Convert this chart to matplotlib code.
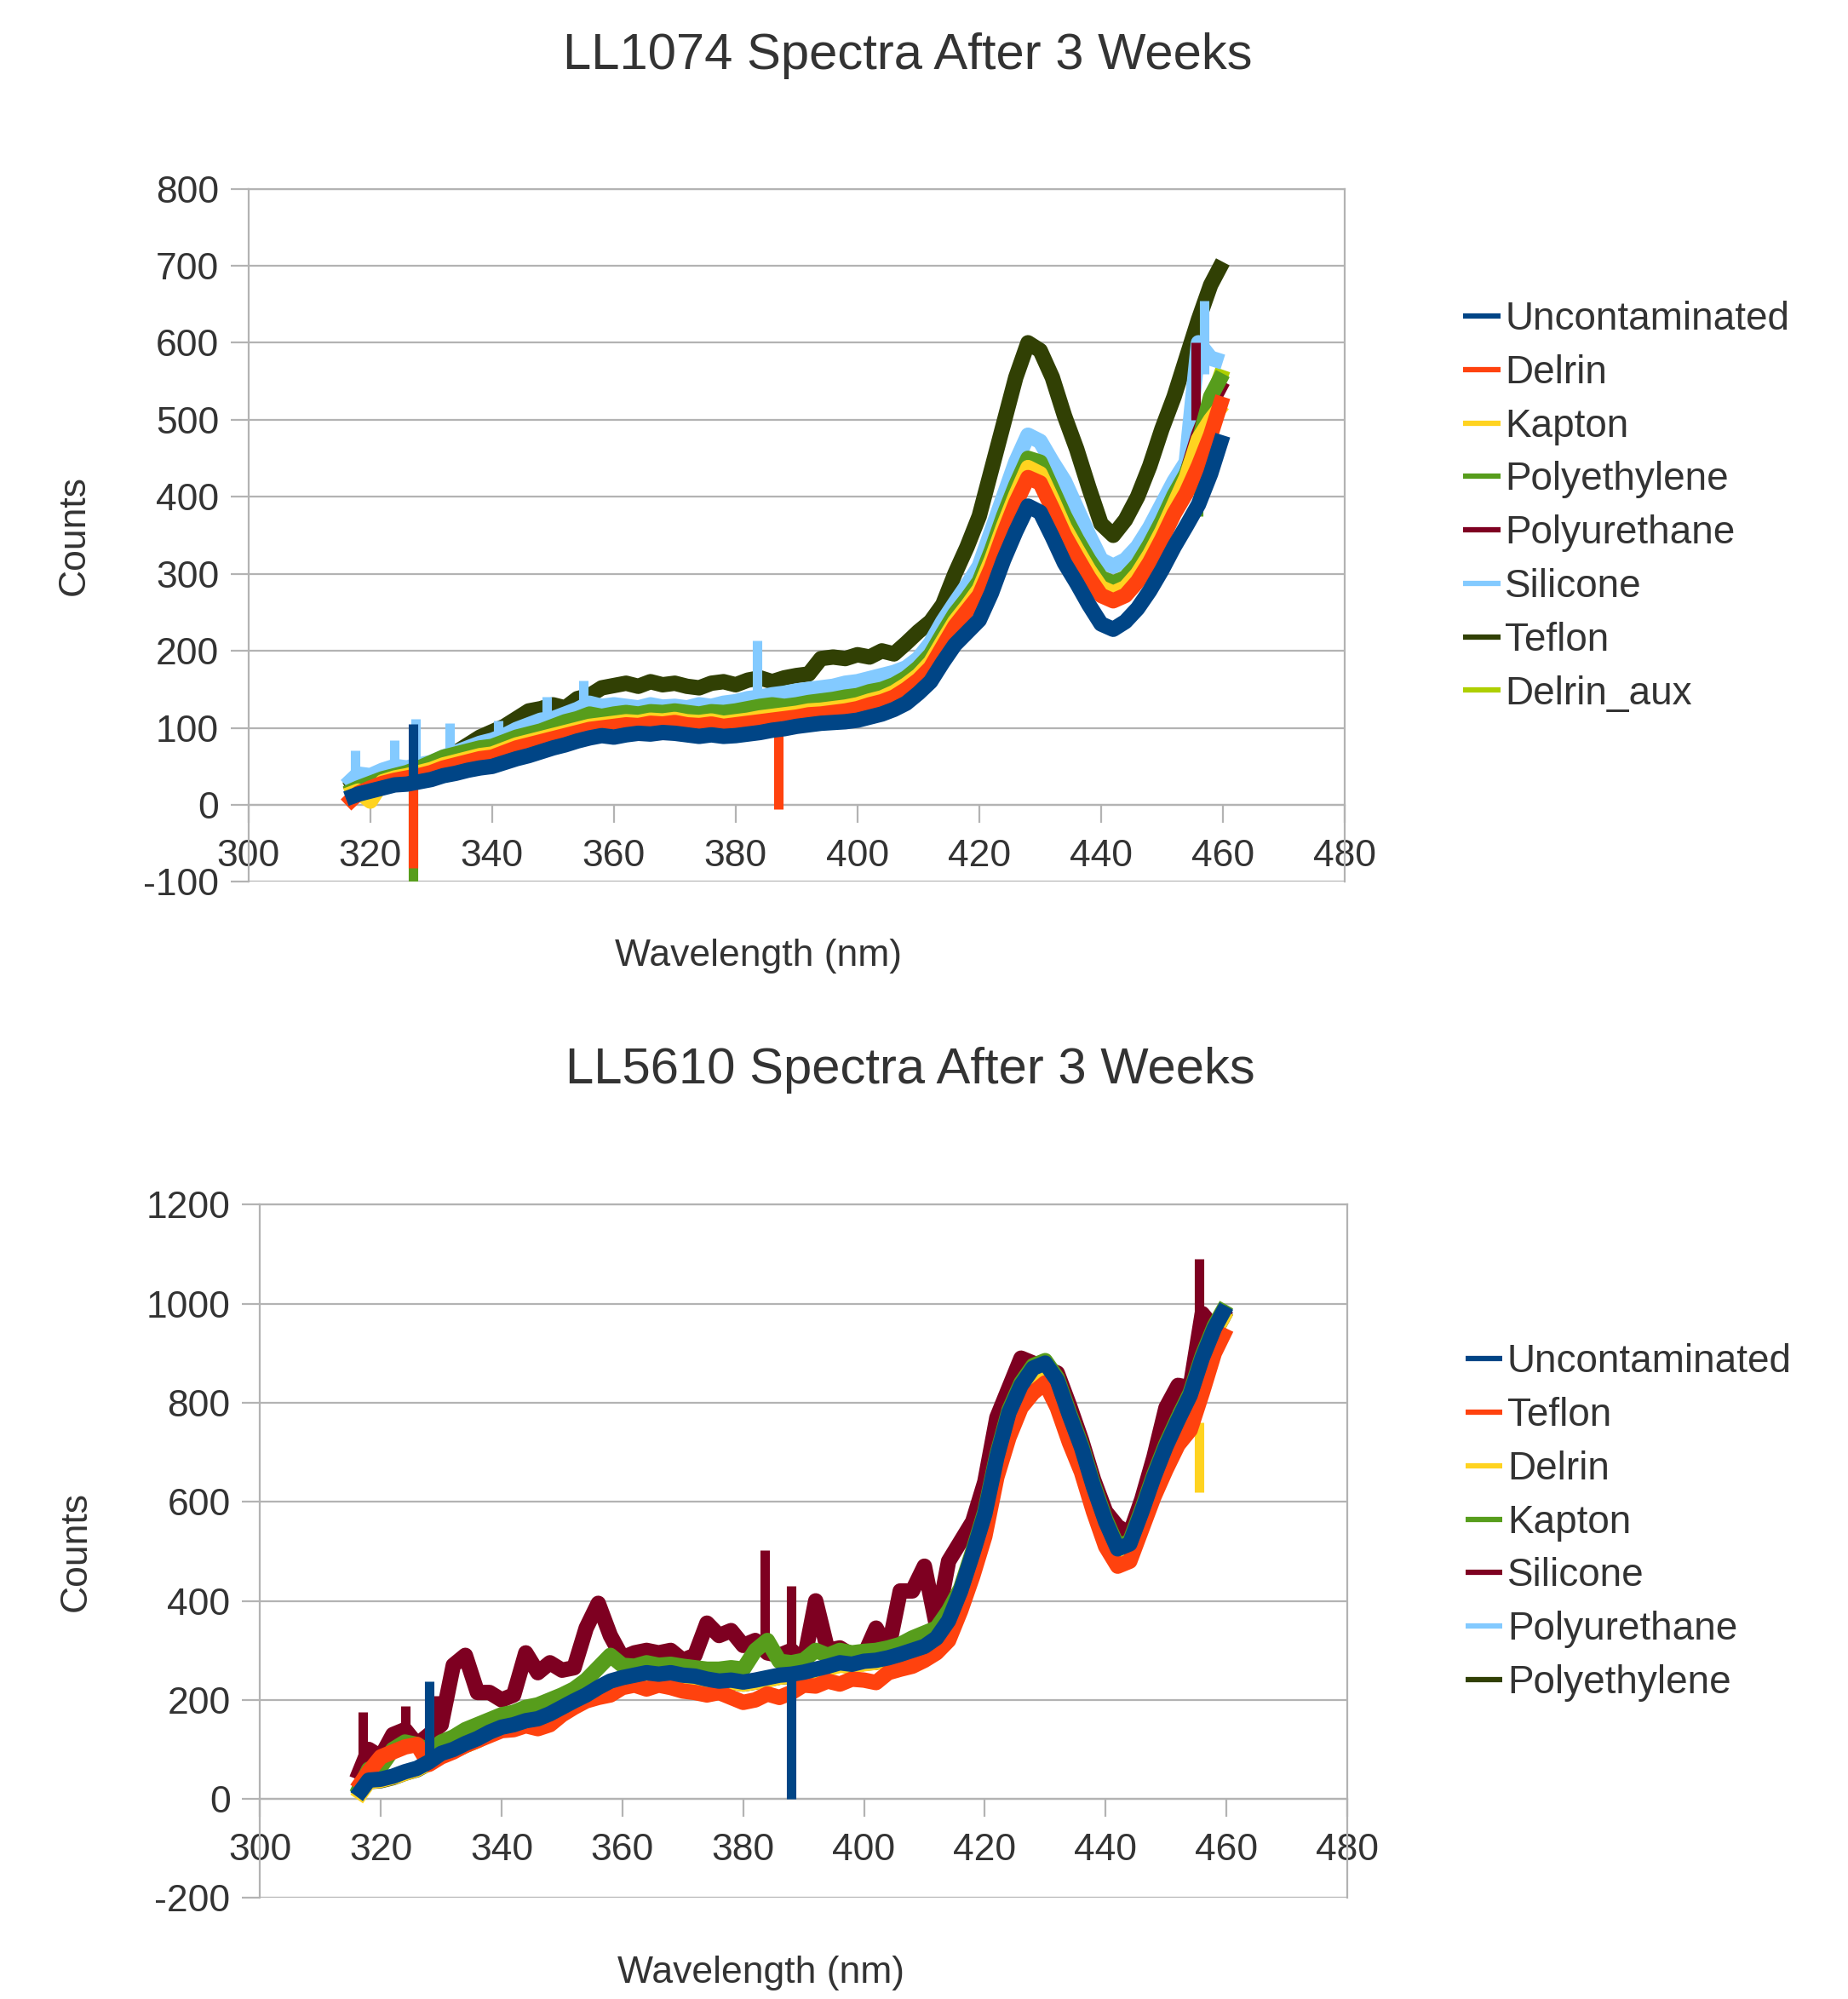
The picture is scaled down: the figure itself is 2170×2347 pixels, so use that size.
import matplotlib.pyplot as plt

plt.rcParams['font.family'] = ['Liberation Sans', 'DejaVu Sans']
plt.rcParams['axes.unicode_minus'] = False

# sampling grid (nm), 316..460 every 2 nm
wavelength = list(range(316, 461, 2))

# ---------------- LL1074 ----------------
top_names = ['Uncontaminated', 'Delrin', 'Kapton', 'Polyethylene', 'Polyurethane',
             'Silicone', 'Teflon', 'Delrin_aux']
top_colors = ['#004586', '#ff420e', '#ffd320', '#579d1c', '#7e0021',
              '#83caff', '#314004', '#aecf00']

top_uncont = [8, 14, 18, 22, 26, 27, 30, 33, 38, 41,
              45, 48, 50, 55, 60, 64, 69, 74, 78, 83,
              87, 90, 88, 91, 93, 92, 94, 93, 91, 89,
              91, 89, 90, 92, 94, 97, 99, 102, 104, 106,
              107, 108, 110, 114, 118, 124, 132, 145, 160, 185,
              208, 224, 240, 275, 318, 355, 388, 380, 348, 314,
              288, 260, 235, 228, 238, 255, 278, 305, 335, 362,
              390, 430, 480]
top_delrin = [0, 15, 22, 28, 32, 35, 38, 42, 48, 52,
              56, 60, 62, 68, 74, 78, 82, 86, 90, 94,
              98, 100, 102, 104, 103, 106, 105, 107, 104, 103,
              105, 102, 104, 106, 108, 110, 112, 114, 117, 118,
              120, 122, 125, 130, 134, 140, 150, 162, 178, 205,
              232, 252, 272, 308, 352, 392, 425, 418, 385, 350,
              322, 295, 272, 265, 272, 290, 315, 345, 378, 405,
              440, 480, 530]
top_kapton = [12, 18, 5, 30, 35, 38, 42, 46, 52, 56,
              60, 64, 66, 72, 78, 82, 86, 90, 94, 98,
              102, 104, 106, 108, 107, 110, 109, 111, 108, 107,
              109, 106, 108, 110, 113, 115, 117, 119, 122, 123,
              125, 127, 130, 135, 139, 146, 156, 168, 185, 212,
              238, 258, 280, 318, 362, 402, 438, 430, 396, 360,
              332, 305, 282, 275, 282, 300, 325, 355, 390, 425,
              475, 500, 520]
top_polyeth = [15, 22, 28, 34, 38, 42, 48, 55, 62, 66,
               70, 74, 76, 82, 88, 92, 96, 102, 108, 112,
               118, 115, 118, 120, 118, 121, 120, 122, 120, 118,
               121, 120, 122, 125, 128, 130, 128, 130, 133, 135,
               137, 140, 142, 147, 150, 156, 165, 178, 195, 222,
               248, 268, 290, 330, 375, 415, 450, 445, 410, 375,
               345, 318, 295, 288, 295, 312, 338, 368, 402, 430,
               470, 530, 560]
top_polyur = [14, 20, 27, 33, 37, 41, 46, 53, 60, 64,
              68, 72, 75, 80, 86, 90, 95, 100, 106, 110,
              115, 113, 116, 118, 116, 119, 118, 120, 118, 116,
              119, 118, 120, 123, 126, 128, 126, 128, 131, 133,
              135, 138, 140, 145, 148, 154, 162, 175, 192, 218,
              245, 265, 288, 326, 372, 412, 448, 442, 408, 372,
              342, 315, 292, 286, 292, 310, 335, 365, 398, 428,
              480, 520, 550]
top_silicone = [25, 40, 38, 45, 50, 48, 52, 55, 62, 68,
                74, 80, 84, 90, 98, 104, 110, 112, 118, 124,
                132, 128, 130, 128, 126, 130, 127, 128, 126, 130,
                128, 132, 134, 138, 140, 143, 145, 148, 150, 152,
                154, 158, 160, 164, 168, 172, 178, 190, 210, 238,
                262, 285, 310, 355, 400, 445, 480, 472, 445, 420,
                385, 350, 318, 310, 318, 335, 360, 390, 420, 445,
                600, 580, 575]
top_teflon = [20, 28, 30, 33, 36, 40, 45, 52, 60, 68,
              78, 88, 95, 102, 112, 122, 125, 130, 126, 138,
              142, 152, 155, 158, 154, 160, 156, 158, 154, 152,
              158, 160, 156, 162, 165, 160, 165, 168, 170, 190,
              192, 190, 195, 192, 200, 196, 210, 225, 238, 260,
              300, 335, 375, 435, 495, 555, 600, 590, 555, 505,
              462, 412, 365, 350, 370, 400, 440, 488, 530, 580,
              630, 675, 705]
top_delrin_aux = [14, 21, 27, 33, 37, 41, 47, 53, 60, 64,
                  68, 72, 74, 80, 86, 90, 94, 100, 105, 110,
                  114, 112, 115, 117, 115, 118, 117, 119, 117, 115,
                  118, 117, 119, 122, 125, 127, 125, 127, 130, 132,
                  134, 137, 139, 144, 147, 153, 161, 174, 190, 216,
                  243, 262, 285, 325, 370, 410, 445, 440, 405, 370,
                  340, 313, 290, 283, 290, 307, 332, 362, 395, 422,
                  460, 520, 565]

# narrow spikes: (wavelength, low, high)
top_spikes = {
    'Uncontaminated': [(327, 25, 105)],
    'Delrin': [(327, -82, 30), (387, -5, 110)],
    'Polyethylene': [(327, -100, 40), (456, 375, 470)],
    'Polyurethane': [(455.5, 500, 600)],
    'Silicone': [(317.5, 30, 71), (324, 40, 84), (327.5, 45, 112), (333, 60, 106),
                 (341, 85, 110), (349, 105, 140), (355, 120, 162), (383.5, 135, 214),
                 (457, 560, 655)],
}

# ---------------- LL5610 ----------------
bot_names = ['Uncontaminated', 'Teflon', 'Delrin', 'Kapton', 'Silicone',
             'Polyurethane', 'Polyethylene']
bot_colors = ['#004586', '#ff420e', '#ffd320', '#579d1c', '#7e0021',
              '#83caff', '#314004']

bot_uncont = [5, 38, 40, 46, 55, 62, 75, 92, 100, 112,
              122, 135, 145, 150, 158, 162, 172, 185, 198, 210,
              225, 238, 245, 250, 255, 252, 255, 250, 248, 242,
              238, 240, 236, 240, 245, 250, 252, 256, 262, 268,
              275, 272, 278, 280, 285, 292, 300, 308, 325, 360,
              420, 495, 575, 690, 780, 835, 870, 880, 845, 775,
              710, 630, 560, 505, 515, 580, 650, 712, 765, 815,
              890, 950, 995]
bot_teflon = [20, 55, 85, 95, 105, 110, 70, 85, 95, 108,
              118, 128, 138, 140, 148, 142, 150, 170, 185, 198,
              205, 210, 225, 230, 222, 230, 225, 218, 215, 210,
              215, 205, 195, 200, 212, 205, 215, 230, 228, 238,
              232, 242, 240, 235, 255, 262, 268, 280, 295, 320,
              380, 450, 530, 650, 730, 790, 820, 840, 790, 720,
              660, 580, 510, 470, 480, 545, 610, 665, 715, 745,
              820, 900, 950]
bot_delrin = [0, 35, 38, 44, 52, 60, 72, 88, 97, 108,
              118, 130, 140, 146, 153, 158, 168, 180, 193, 205,
              220, 232, 240, 245, 250, 247, 250, 246, 243, 238,
              234, 236, 232, 236, 240, 246, 248, 252, 258, 263,
              270, 268, 273, 276, 280, 288, 295, 303, 320, 352,
              410, 485, 565, 680, 770, 825, 860, 870, 835, 765,
              700, 620, 552, 498, 508, 572, 640, 700, 752, 800,
              870, 940, 985]
bot_kapton = [10, 60, 65, 100, 115, 110, 95, 115, 125, 140,
              150, 160, 170, 175, 185, 190, 200, 210, 222, 240,
              265, 290, 270, 268, 275, 270, 272, 268, 265, 262,
              262, 265, 262, 300, 320, 278, 275, 280, 300, 290,
              300, 295, 298, 300, 305, 312, 325, 335, 345, 380,
              425, 500, 580, 695, 785, 840, 875, 885, 850, 780,
              715, 635, 565, 510, 520, 585, 655, 717, 770, 820,
              895, 955, 998]
bot_silicone = [40, 100, 85, 130, 140, 110, 130, 150, 270, 290,
                215, 215, 200, 210, 295, 255, 275, 260, 265, 345,
                395, 330, 285, 295, 300, 295, 300, 280, 290, 355,
                330, 340, 310, 320, 295, 290, 300, 275, 400, 300,
                305, 290, 290, 345, 300, 420, 420, 470, 350, 480,
                520, 560, 640, 770, 830, 890, 880, 870, 860, 795,
                725, 645, 580, 550, 535, 605, 690, 790, 835, 830,
                980, 950, 990]
bot_polyur = [5, 36, 39, 45, 54, 61, 74, 90, 99, 110,
              120, 133, 143, 149, 156, 161, 170, 183, 196, 208,
              223, 236, 243, 248, 253, 250, 253, 248, 246, 240,
              236, 238, 234, 238, 243, 248, 250, 254, 260, 266,
              273, 270, 276, 278, 283, 290, 298, 306, 322, 356,
              415, 490, 570, 685, 776, 830, 866, 876, 840, 770,
              705, 625, 556, 502, 512, 576, 646, 708, 760, 810,
              885, 945, 990]
bot_polyeth = [4, 35, 37, 43, 52, 59, 72, 88, 97, 108,
               118, 131, 141, 147, 154, 159, 168, 181, 194, 206,
               221, 234, 241, 246, 251, 248, 251, 246, 244, 238,
               234, 236, 232, 236, 241, 246, 248, 252, 258, 264,
               271, 268, 274, 276, 281, 288, 296, 304, 320, 352,
               412, 486, 566, 680, 772, 826, 862, 872, 836, 766,
               700, 620, 552, 498, 508, 572, 642, 704, 756, 806,
               880, 940, 985]

bot_spikes = {
    'Uncontaminated': [(328, 70, 237), (388, 0, 255)],
    'Delrin': [(455.5, 620, 760)],
    'Silicone': [(317, 60, 175), (324, 130, 188), (329, 120, 208), (383.5, 300, 503),
                 (388, 280, 430), (455.5, 850, 1090)],
}

top_series = [top_uncont, top_delrin, top_kapton, top_polyeth, top_polyur,
              top_silicone, top_teflon, top_delrin_aux]
bot_series = [bot_uncont, bot_teflon, bot_delrin, bot_kapton, bot_silicone,
              bot_polyur, bot_polyeth]

text_col = '#333333'
grid_col = '#b3b3b3'
fs = 32
lw = 13


def draw(ax, names, colors, series, spikes, ylim, ystep, legend_xy):
    n = len(names)
    for i in range(n):
        z = 10 + n - i   # first series ends up on top
        ax.plot(wavelength, series[i], color=colors[i], lw=lw, label=names[i],
                zorder=z, solid_joinstyle='round', solid_capstyle='butt')
        for (x, lo, hi) in spikes.get(names[i], []):
            ax.vlines(x, lo, hi, color=colors[i], lw=8, zorder=z)

    ax.set_xlim(300, 480)
    ax.set_ylim(*ylim)
    ax.set_xticks(range(300, 481, 20))
    ax.set_yticks(range(ylim[0], ylim[1] + 1, ystep))
    ax.grid(axis='y', color=grid_col, lw=1.6, zorder=0)
    ax.set_axisbelow(True)
    for s in ax.spines.values():
        s.set_color(grid_col)
        s.set_linewidth(1.6)
    ax.spines['bottom'].set_position(('data', 0))
    ax.tick_params(axis='both', colors=grid_col, labelcolor=text_col,
                   labelsize=fs, length=15, width=1.6, direction='out')
    ax.tick_params(axis='y', pad=10)
    ax.tick_params(axis='x', pad=14)

    leg = ax.legend(loc='upper left', bbox_to_anchor=legend_xy,
                    bbox_transform=ax.figure.transFigure, frameon=False,
                    fontsize=33, handlelength=0.95, handletextpad=0.12,
                    labelspacing=0.41, borderpad=0, borderaxespad=0)
    for t in leg.get_texts():
        t.set_color(text_col)
    for h in leg.get_lines():
        h.set_linewidth(4.5)


fig = plt.figure(figsize=(21.7, 23.47), dpi=100)

ax1 = fig.add_axes([0.1345, 0.5588, 0.5931, 0.3468])
draw(ax1, top_names, top_colors, top_series, top_spikes, (-100, 800), 100,
     (0.7917, 0.8496))
ax1.text(-0.159, 0.5, 'Counts', transform=ax1.transAxes, rotation=90,
         ha='center', va='center', fontsize=fs, color=text_col)
ax1.text(0.465, -0.107, 'Wavelength (nm)', transform=ax1.transAxes,
         ha='center', va='center', fontsize=fs, color=text_col)
fig.text(0.491, 0.972, 'LL1074 Spectra After 3 Weeks', ha='center', va='center',
         fontsize=43, color=text_col)

ax2 = fig.add_axes([0.1407, 0.0505, 0.5883, 0.3469])
draw(ax2, bot_names, bot_colors, bot_series, bot_spikes, (-200, 1200), 200,
     (0.793, 0.328))
ax2.text(-0.169, 0.5, 'Counts', transform=ax2.transAxes, rotation=90,
         ha='center', va='center', fontsize=fs, color=text_col)
ax2.text(0.461, -0.108, 'Wavelength (nm)', transform=ax2.transAxes,
         ha='center', va='center', fontsize=fs, color=text_col)
fig.text(0.4925, 0.4645, 'LL5610 Spectra After 3 Weeks', ha='center', va='center',
         fontsize=43, color=text_col)

fig.savefig('out.png', dpi=100)
